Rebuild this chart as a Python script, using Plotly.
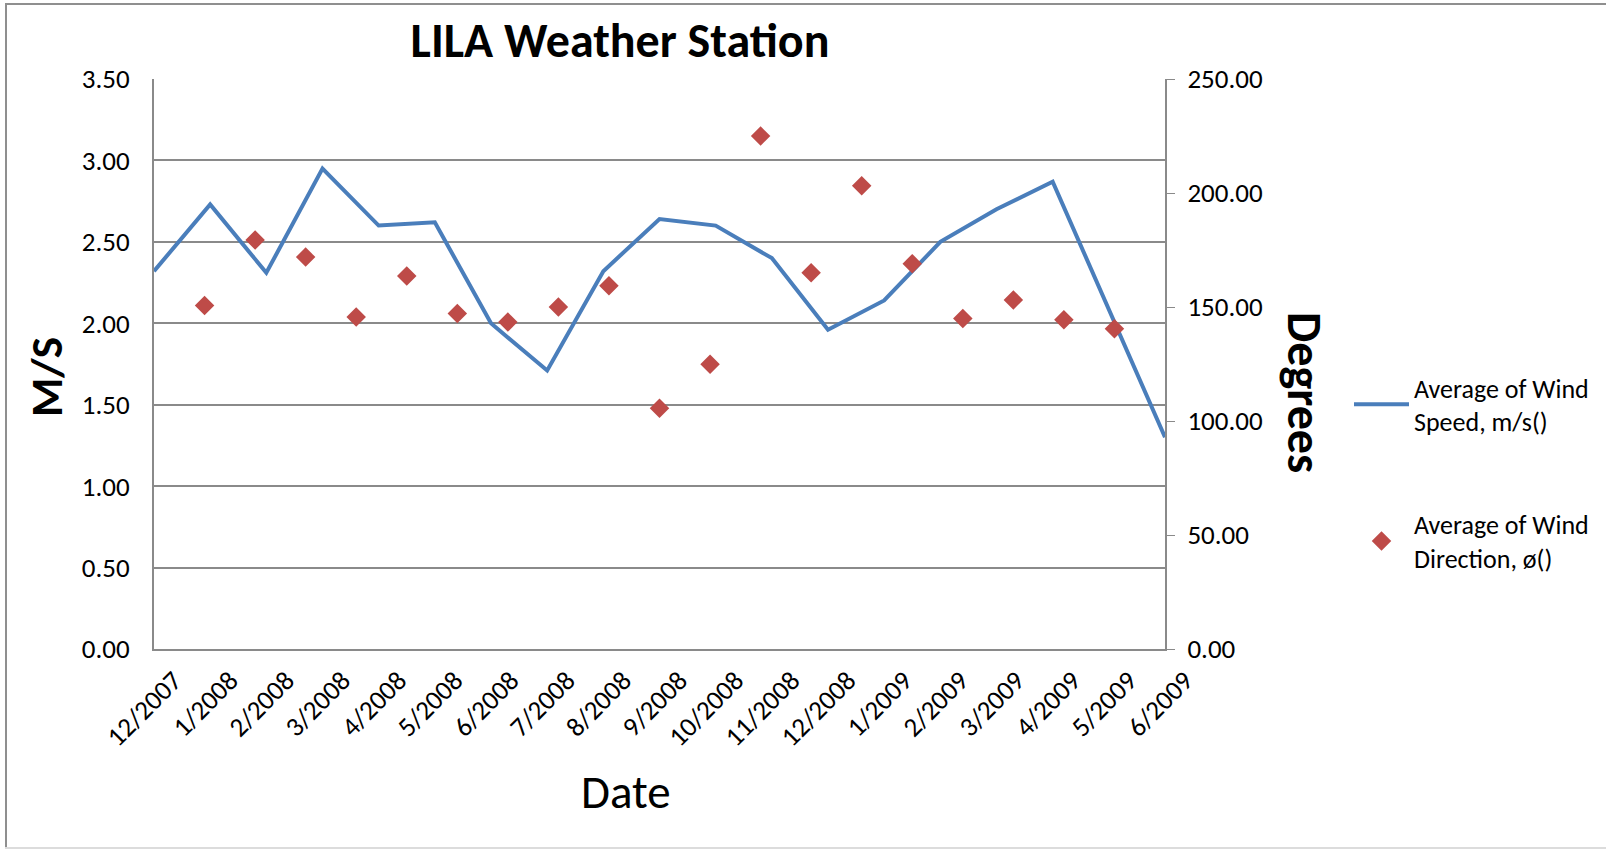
import plotly.graph_objects as go

# ---- data ----
dates = ["12/2007", "1/2008", "2/2008", "3/2008", "4/2008", "5/2008", "6/2008",
         "7/2008", "8/2008", "9/2008", "10/2008", "11/2008", "12/2008", "1/2009",
         "2/2009", "3/2009", "4/2009", "5/2009", "6/2009"]
wind_speed = [2.32, 2.73, 2.31, 2.95, 2.60, 2.62, 2.00, 1.71, 2.32, 2.64,
              2.60, 2.40, 1.96, 2.14, 2.50, 2.70, 2.87, 2.08, 1.30]
wind_dir = [150.7, 179.4, 171.9, 145.6, 163.6, 147.2, 143.4, 150.0, 159.3, 105.6,
            124.9, 225.0, 165.0, 203.2, 169.0, 145.0, 153.1, 144.4, 140.5]
dir_index = list(range(1, len(wind_dir) + 1))

FONT = "Carlito, Calibri, Lato, sans-serif"
GRID = "#8a8a8a"

fig = go.Figure()
fig.add_trace(go.Scatter(
    x=dates, y=wind_speed, mode="lines",
    name="Average of Wind<br>Speed, m/s()",
    line=dict(color="#4A7EBB", width=4),
    legendgroup="a",
))
fig.add_trace(go.Scatter(
    x=dir_index, y=wind_dir, mode="markers",
    name="Average of Wind<br>Direction, ø()",
    marker=dict(symbol="diamond", color="#BE4B48", size=15),
    xaxis="x2", yaxis="y2", legendgroup="b",
))

L, T, W, H = 154, 79, 1011, 570
FW, FH = 1606, 849

def px(x):
    return (x - L) / W

def py(y):
    return (T + H - y) / H

fig.update_layout(
    width=FW, height=FH,
    margin=dict(l=L, r=FW - L - W, t=T, b=FH - T - H),
    paper_bgcolor="white", plot_bgcolor="white",
    font=dict(family=FONT, color="black", size=27),
    title=dict(text="<b>LILA Weather Station</b>", x=620 / FW, xanchor="center",
               y=1 - 40 / FH, yanchor="middle", font=dict(size=48, family=FONT)),
    xaxis=dict(type="category", showgrid=False, showline=True, linecolor=GRID,
               linewidth=2, ticks="", tickangle=-45, tickfont=dict(size=27),
               ticklabelstandoff=3, ticklabelshift=20),
    xaxis2=dict(overlaying="x", range=[0, 20], visible=False),
    yaxis=dict(range=[0, 3.5], dtick=0.5, tickformat=".2f", showgrid=True,
               gridcolor=GRID, gridwidth=1.5, showline=True, linecolor=GRID,
               linewidth=2, ticks="", zeroline=False, tickfont=dict(size=27),
               ticklabelstandoff=17),
    yaxis2=dict(overlaying="y", side="right", range=[0, 250], dtick=50,
                tickformat=".2f", showgrid=False, showline=True, linecolor=GRID,
                linewidth=2, ticks="outside", ticklen=8, tickcolor=GRID,
                zeroline=False, tickfont=dict(size=27), ticklabelstandoff=7),
    showlegend=True,
    legend=dict(x=px(1349), y=py(364), xanchor="left", yanchor="top",
                font=dict(size=26), tracegroupgap=66, itemwidth=55,
                bgcolor="rgba(0,0,0,0)"),
    annotations=[
        dict(text="<b>M/S</b>", x=px(46), y=py(377), xref="paper", yref="paper",
             xanchor="center", yanchor="middle",
             textangle=-90, showarrow=False, font=dict(size=45)),
        dict(text="<b>Degrees</b>", x=px(1304), y=py(392), xref="paper", yref="paper",
             xanchor="center", yanchor="middle",
             textangle=90, showarrow=False, font=dict(size=48)),
        dict(text="Date", x=px(626), y=py(792), xref="paper", yref="paper",
             xanchor="center", yanchor="middle",
             showarrow=False, font=dict(size=47)),
    ],
    shapes=[
        dict(type="line", xref="paper", yref="paper", x0=px(6), x1=px(6),
             y0=py(4), y1=py(848), line=dict(color="#8f8f8f", width=2)),
        dict(type="line", xref="paper", yref="paper", x0=px(5), x1=px(1620),
             y0=py(4), y1=py(4), line=dict(color="#8f8f8f", width=2)),
        dict(type="line", xref="paper", yref="paper", x0=px(5), x1=px(1620),
             y0=py(848), y1=py(848), line=dict(color="#dcdcdc", width=2)),
    ],
)

fig.write_html("out.html", config={"displayModeBar": False},
               post_script="document.body.style.margin='0';")
